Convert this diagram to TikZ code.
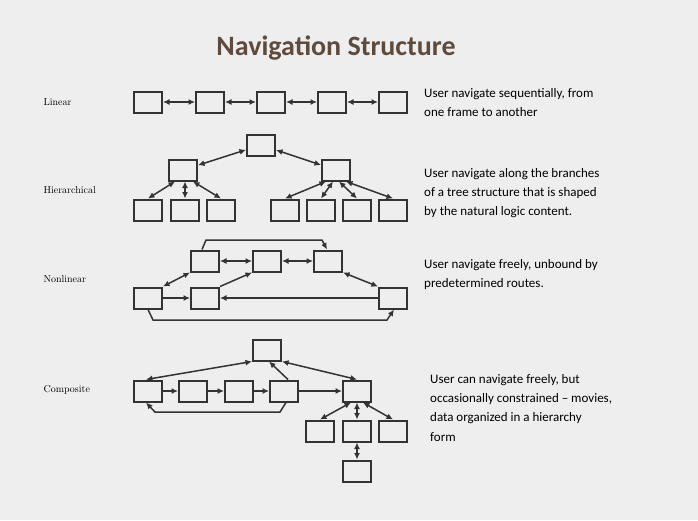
\documentclass[tikz,border=0pt]{standalone}
\usepackage{fontspec}
\newfontfamily\carl{Carlito}
\usetikzlibrary{arrows.meta}
\definecolor{bgc}{HTML}{EEEEEE}
\definecolor{titc}{HTML}{5E4B3E}
\definecolor{linc}{HTML}{333333}
\begin{document}
\begin{tikzpicture}[x=1pt,y=-1pt,
 bx/.style={draw=linc,line width=2pt,minimum width=28pt,minimum height=21pt,inner sep=0pt},
 ar/.style={line width=1.5pt,draw=linc,-{Latex[length=6.5pt,width=6pt]}},
 dar/.style={line width=1.5pt,draw=linc,{Latex[length=6.5pt,width=6pt]}-{Latex[length=6.5pt,width=6pt]}},
 lab/.style={font=\fontsize{10}{12}\selectfont,anchor=west},
 desc/.style={font=\carl\fontsize{13}{19.3}\selectfont,anchor=north west,align=left,inner sep=0pt}]
\fill[bgc] (0,0) rectangle (698,520);
\node[font=\carl\bfseries\fontsize{28}{30}\selectfont,text=titc] (title) at (336,48) {Navigation Structure};
% Linear
\node[lab] (l1) at (40,102) {Linear};
\foreach \i/\x in {1/148,2/210,3/271,4/332,5/393}{\node[bx] (L\i) at (\x,102) {};}
\foreach \a/\b in {1/2,2/3,3/4,4/5}{\draw[dar] (L\a) -- (L\b);}
\node[desc] (d1) at (424,88) {User navigate sequentially, from\\one frame to another};
% Hierarchical
\node[lab] (l2) at (40,190) {Hierarchical};
\node[bx] (HT) at (261,145) {};
\node[bx] (HL) at (183,170) {};
\node[bx] (HR) at (336,170) {};
\foreach \i/\x in {1/148,2/185,3/221}{\node[bx] (HA\i) at (\x,210) {};}
\foreach \i/\x in {1/285,2/321,3/357,4/393}{\node[bx] (HB\i) at (\x,210) {};}
\draw[dar] (HT) -- (HL);
\draw[dar] (HT) -- (HR);
\draw[dar] ([xshift=-8pt]HL.south) -- (HA1.north);
\draw[dar] ([xshift=2pt]HL.south) -- (HA2.north);
\draw[dar] ([xshift=10pt]HL.south) -- (HA3.north);
\draw[dar] ([xshift=-10pt]HR.south) -- (HB1.north);
\draw[dar] ([xshift=-3pt]HR.south) -- (HB2.north);
\draw[dar] ([xshift=3pt]HR.south) -- (HB3.north);
\draw[dar] ([xshift=10pt]HR.south) -- (HB4.north);
\node[desc] (d2) at (424,168) {User navigate along the branches\\of a tree structure that is shaped\\by the natural logic content.};
% Nonlinear
\node[lab] (l3) at (40,279) {Nonlinear};
\node[bx] (N1) at (205,261) {};
\node[bx] (N2) at (267,261) {};
\node[bx] (N3) at (328,261) {};
\node[bx] (NA) at (148,298) {};
\node[bx] (NB) at (205,298) {};
\node[bx] (NR) at (393,298) {};
\draw[dar] (NA.north east) -- (N1.south west);
\draw[ar] (NA) -- (NB);
\draw[ar] (NB.north east) -- (N2.south west);
\draw[dar] (N1) -- (N2);
\draw[dar] (N2) -- (N3);
\draw[dar] (N3.south east) -- (NR.north west);
\draw[ar] (NR) -- (NB);
\coordinate (nt1) at (206,240);
\coordinate (nt2) at (322,240);
\coordinate (nb1) at (153,320);
\coordinate (nb2) at (387,320);
\draw[ar] ([xshift=-3pt]N1.north) -- (nt1) -- (nt2) -- ([xshift=-1pt]N3.north);
\draw[ar] (NA.south) -- (nb1) -- (nb2) -- ([xshift=1pt]NR.south);
\node[desc] (d3) at (424,259) {User navigate freely, unbound by\\predetermined routes.};
% Composite
\node[lab] (l4) at (40,390) {Composite};
\node[bx] (CT) at (267,350) {};
\foreach \i/\x in {1/148,2/193,3/239,4/284}{\node[bx] (C\i) at (\x,391) {};}
\node[bx] (CR) at (357,391) {};
\foreach \i/\x in {1/320,2/357,3/393}{\node[bx] (CC\i) at (\x,431) {};}
\node[bx] (CB) at (357,471) {};
\draw[dar] (CT.south west) -- ([xshift=-2pt]C1.north);
\foreach \a/\b in {1/2,2/3,3/4}{\draw[ar] (C\a) -- (C\b);}
\draw[ar] ([xshift=4pt]C4.north) -- ([xshift=2pt]CT.south);
\draw[ar] (C4) -- (CR);
\draw[dar] (CT.south east) -- (CR.north);
\coordinate (cb1) at (155,412);
\coordinate (cb2) at (280,412);
\draw[ar] ([xshift=2pt]C4.south) -- (cb2) -- (cb1) -- ([xshift=-2pt]C1.south);
\draw[dar] ([xshift=-6pt]CR.south) -- (CC1.north);
\draw[dar] (CR.south) -- (CC2.north);
\draw[dar] ([xshift=6pt]CR.south) -- (CC3.north);
\draw[dar] (CC2) -- (CB);
\node[desc] (d4) at (430,374) {User can navigate freely, but\\occasionally constrained – movies,\\data organized in a hierarchy\\form};
\end{tikzpicture}
\end{document}
